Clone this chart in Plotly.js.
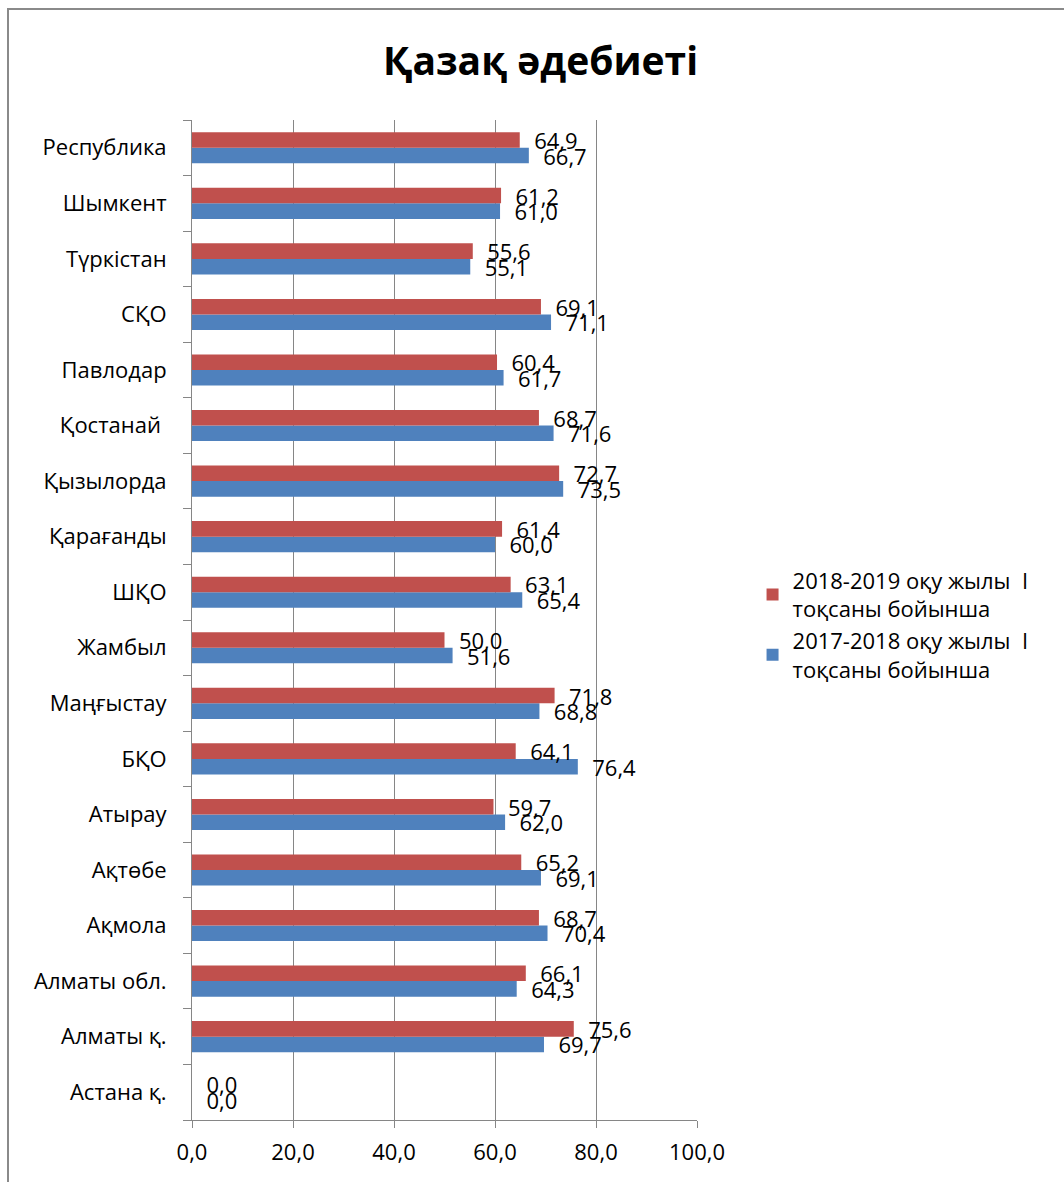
<!DOCTYPE html>
<html>
<head>
<meta charset="utf-8">
<script src="https://cdn.plot.ly/plotly-3.0.1.min.js"></script>
<style>
html,body{margin:0;padding:0;background:#fff;}
#frame{position:absolute;left:7px;top:8px;width:1100px;height:1300px;border-top:2px solid #8a8a8a;border-left:2px solid #8a8a8a;box-sizing:border-box;pointer-events:none;z-index:5;}
#chart{width:1064px;height:1182px;}
</style>
</head>
<body>
<div id="frame"></div>
<div id="chart"></div>
<script>
const categories = ["Астана қ.","Алматы қ.","Алматы обл.","Ақмола","Ақтөбе","Атырау","БҚО","Маңғыстау","Жамбыл","ШҚО","Қарағанды","Қызылорда","Қостанай ","Павлодар","СҚО","Түркістан","Шымкент","Республика"];
const values2018 = [0.0,75.6,66.1,68.7,65.2,59.7,64.1,71.8,50.0,63.1,61.4,72.7,68.7,60.4,69.1,55.6,61.2,64.9];
const values2017 = [0.0,69.7,64.3,70.4,69.1,62.0,76.4,68.8,51.6,65.4,60.0,73.5,71.6,61.7,71.1,55.1,61.0,66.7];
const name2018 = "2018-2019 оқу жылы  I<br>тоқсаны бойынша";
const name2017 = "2017-2018 оқу жылы  I<br>тоқсаны бойынша";
const titleText = "Қазақ әдебиеті";

const fmt = v => "  " + v.toFixed(1).replace(".", ",");
const FONT = "Open Sans, Noto Sans, sans-serif";

const traces = [
  {type:"bar", orientation:"h", y:categories, x:values2017, name:name2017,
   marker:{color:"#4f81bd"}, text:values2017.map(fmt), textposition:"outside",
   textfont:{family:FONT, size:22, color:"#000"}, constraintext:"none", cliponaxis:false, hoverinfo:"x"},
  {type:"bar", orientation:"h", y:categories, x:values2018, name:name2018,
   marker:{color:"#c0504d"}, text:values2018.map(fmt), textposition:"outside",
   textfont:{family:FONT, size:22, color:"#000"}, constraintext:"none", cliponaxis:false, hoverinfo:"x"}
];

const layout = {
  width:1064, height:1182,
  margin:{l:192, r:367, t:120, b:62},
  paper_bgcolor:"#fff", plot_bgcolor:"#fff",
  separators:", ",
  barmode:"group", bargap:0.44, bargroupgap:0,
  title:{text:titleText, font:{family:FONT, size:39, color:"#000", weight:"bold"}, x:0.508, xanchor:"center", y:0.948, yanchor:"middle"},
  font:{family:FONT, size:22, color:"#000"},
  xaxis:{range:[0,100], dtick:20, tickformat:".1f", showgrid:true, gridcolor:"#868686", gridwidth:1,
    showline:true, linecolor:"#868686", linewidth:1, ticks:"outside", ticklen:7, tickcolor:"#868686",
    zeroline:false, tickfont:{family:FONT, size:22}, ticklabelstandoff:6, fixedrange:true},
  yaxis:{type:"category", tickson:"boundaries", ticks:"outside", ticklen:8, tickcolor:"#868686",
    showline:true, linecolor:"#868686", linewidth:1, showgrid:false, tickfont:{family:FONT, size:22},
    ticklabelstandoff:20, fixedrange:true},
  legend:{x:1.11, xanchor:"left", y:0.495, yanchor:"middle", traceorder:"reversed",
    font:{family:FONT, size:22, color:"#000"}, itemclick:false, tracegroupgap:10},
  showlegend:true
};

Plotly.newPlot("chart", traces, layout, {displayModeBar:false, staticPlot:true});
</script>
</body>
</html>
